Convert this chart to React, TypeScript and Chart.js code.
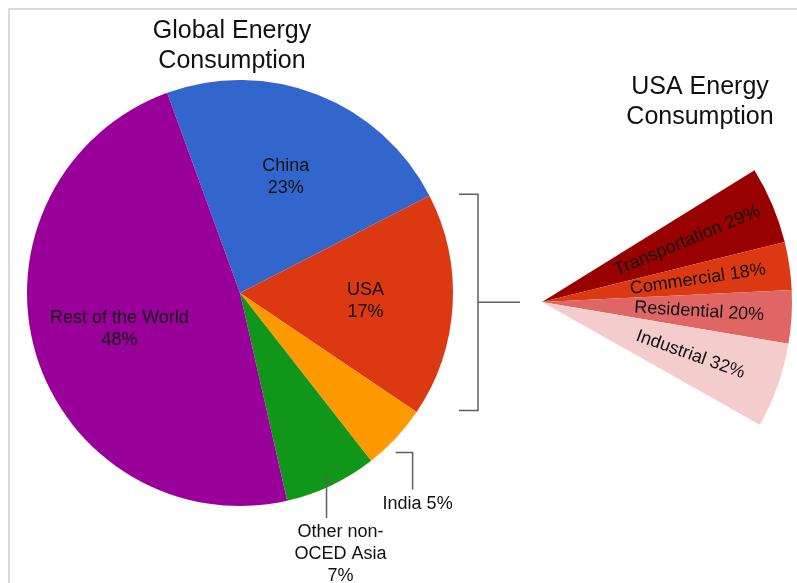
import { useEffect, useRef } from "react";
import { Chart, registerables } from "chart.js";

Chart.register(...registerables);

// World energy use by region (percent of total)
const regions = ["China", "USA", "India", "Other non-OCED Asia", "Rest of the World"];
const regionShares = [23, 17, 5, 7, 48];
const regionLabelLines = [["China"], ["USA"], ["India"], ["Other non-", "OCED Asia"], ["Rest of the World"]];
const regionColors = ["#3366cc", "#dc3912", "#ff9900", "#109618", "#990099"];

// US energy use by sector (percent of US total)
const sectors = ["Transportation", "Commercial", "Residential", "Industrial"];
const sectorShares = [29, 18, 20, 32];
const sectorColors = ["#990000", "#dc3912", "#e06666", "#f4cccc"];

const globalTitle = ["Global Energy", "Consumption"];
const usaTitle = ["USA Energy", "Consumption"];

const FONT = '"Liberation Sans", Arial, Helvetica, sans-serif';
const TEXT = "#111111";
const LEADER = "#5f5f5f";

// callout placement for the thin slices that are labelled outside the pie
const callouts: Record<string, { at: number; r: number; elbow: number; down: number; dx: number; dy: number; inline: boolean }> = {
  India: { at: 0.65, r: 1.046, elbow: 17, down: 37, dx: 5, dy: 20, inline: true },
  "Other non-OCED Asia": { at: 0.5, r: 0.947, elbow: 0, down: 43, dx: 14, dy: 19, inline: false },
};

const globalAnnotations = {
  id: "globalAnnotations",
  afterDraw(chart: any) {
    const ctx: CanvasRenderingContext2D = chart.ctx;
    const arcs = chart.getDatasetMeta(0).data as any[];
    ctx.save();
    ctx.fillStyle = TEXT;
    ctx.textAlign = "center";
    ctx.textBaseline = "alphabetic";

    // chart titles
    ctx.font = `25px ${FONT}`;
    globalTitle.forEach((t, i) => ctx.fillText(t, 232, 38 + i * 30));
    usaTitle.forEach((t, i) => ctx.fillText(t, 700, 94 + i * 30));

    ctx.font = `18px ${FONT}`;
    ctx.strokeStyle = LEADER;
    ctx.lineWidth = 1.5;
    arcs.forEach((arc, i) => {
      const p = arc.getProps(["x", "y", "startAngle", "endAngle", "outerRadius"], true);
      const name = regions[i];
      const value = `${regionShares[i]}%`;
      const co = callouts[name];
      if (!co) {
        // label inside the slice
        const mid = (p.startAngle + p.endAngle) / 2;
        const lx = p.x + Math.cos(mid) * p.outerRadius * 0.59;
        const ly = p.y + Math.sin(mid) * p.outerRadius * 0.59;
        const lines = [...regionLabelLines[i], value];
        lines.forEach((t, k) => ctx.fillText(t, lx, ly - 5 + k * 22));
        return;
      }
      // leader line from the slice to an outside label
      const a = p.startAngle + (p.endAngle - p.startAngle) * co.at;
      const sx = p.x + Math.cos(a) * p.outerRadius * co.r;
      const sy = p.y + Math.sin(a) * p.outerRadius * co.r;
      const ex = sx + co.elbow;
      const ey = sy + co.down;
      ctx.beginPath();
      ctx.moveTo(sx, sy);
      ctx.lineTo(ex, sy);
      ctx.lineTo(ex, ey);
      ctx.stroke();
      const lines = co.inline
        ? [`${regionLabelLines[i].join(" ")} ${value}`]
        : [...regionLabelLines[i], value];
      lines.forEach((t, k) => ctx.fillText(t, ex + co.dx, ey + co.dy + k * 22));
    });

    // bracket tying the USA slice to the sector breakdown
    const usa = arcs[1].getProps(["x", "y", "startAngle", "endAngle", "outerRadius"], true);
    const top = usa.y + Math.sin(usa.startAngle) * usa.outerRadius - 1.5;
    const bottom = usa.y + Math.sin(usa.endAngle) * usa.outerRadius - 1.5;
    const bx = usa.x + usa.outerRadius + 25;
    ctx.beginPath();
    ctx.moveTo(bx - 19, top);
    ctx.lineTo(bx, top);
    ctx.lineTo(bx, bottom);
    ctx.lineTo(bx - 19, bottom);
    ctx.moveTo(bx, (top + bottom) / 2);
    ctx.lineTo(bx + 42, (top + bottom) / 2);
    ctx.stroke();
    ctx.restore();
  },
};

const sectorLabels = {
  id: "sectorLabels",
  afterDatasetsDraw(chart: any) {
    const ctx: CanvasRenderingContext2D = chart.ctx;
    const arcs = chart.getDatasetMeta(0).data as any[];
    ctx.save();
    ctx.fillStyle = TEXT;
    ctx.font = `18px ${FONT}`;
    ctx.textAlign = "center";
    ctx.textBaseline = "middle";
    arcs.forEach((arc, i) => {
      const p = arc.getProps(["x", "y", "startAngle", "endAngle", "outerRadius"], true);
      const mid = (p.startAngle + p.endAngle) / 2;
      const r = p.outerRadius * 0.63;
      ctx.save();
      ctx.translate(p.x + Math.cos(mid) * r, p.y + Math.sin(mid) * r);
      ctx.rotate(mid);
      ctx.fillText(`${sectors[i]} ${sectorShares[i]}%`, 0, 0);
      ctx.restore();
    });
    ctx.restore();
  },
};

export default function App() {
  const globalRef = useRef<HTMLCanvasElement>(null);
  const usaRef = useRef<HTMLCanvasElement>(null);

  useEffect(() => {
    const global = new Chart(globalRef.current!, {
      type: "pie",
      data: {
        labels: regions,
        datasets: [{ data: regionShares, backgroundColor: regionColors, borderWidth: 0 }],
      },
      options: {
        responsive: false,
        animation: false,
        rotation: -20,
        layout: { padding: { left: 27, top: 80, right: 344, bottom: 77 } },
        plugins: { legend: { display: false }, tooltip: { enabled: false } },
      },
      plugins: [globalAnnotations],
    });

    // the USA wedge keeps the same angular share it has in the world pie
    const span = (regionShares[1] / 100) * 360;
    const usa = new Chart(usaRef.current!, {
      type: "pie",
      data: {
        labels: sectors,
        datasets: [{ data: sectorShares, backgroundColor: sectorColors, borderWidth: 0 }],
      },
      options: {
        responsive: false,
        animation: false,
        circumference: span,
        rotation: 90 - 1.2 - span / 2,
        radius: 250,
        layout: { padding: 0 },
        plugins: { legend: { display: false }, tooltip: { enabled: false } },
      },
      plugins: [sectorLabels],
    });

    return () => {
      global.destroy();
      usa.destroy();
    };
  }, []);

  return (
    <div
      style={{
        position: "fixed",
        left: 0,
        top: 0,
        width: 797,
        height: 583,
        overflow: "hidden",
        background: "#ffffff",
      }}
    >
      <div
        style={{
          position: "absolute",
          left: 8,
          top: 8,
          width: 900,
          height: 700,
          borderLeft: "2px solid #dadada",
          borderTop: "2px solid #dadada",
        }}
      />
      <canvas ref={globalRef} width={797} height={583} style={{ position: "absolute", left: 0, top: 0 }} />
      <canvas ref={usaRef} width={260} height={515} style={{ position: "absolute", left: 537, top: 40 }} />
    </div>
  );
}
